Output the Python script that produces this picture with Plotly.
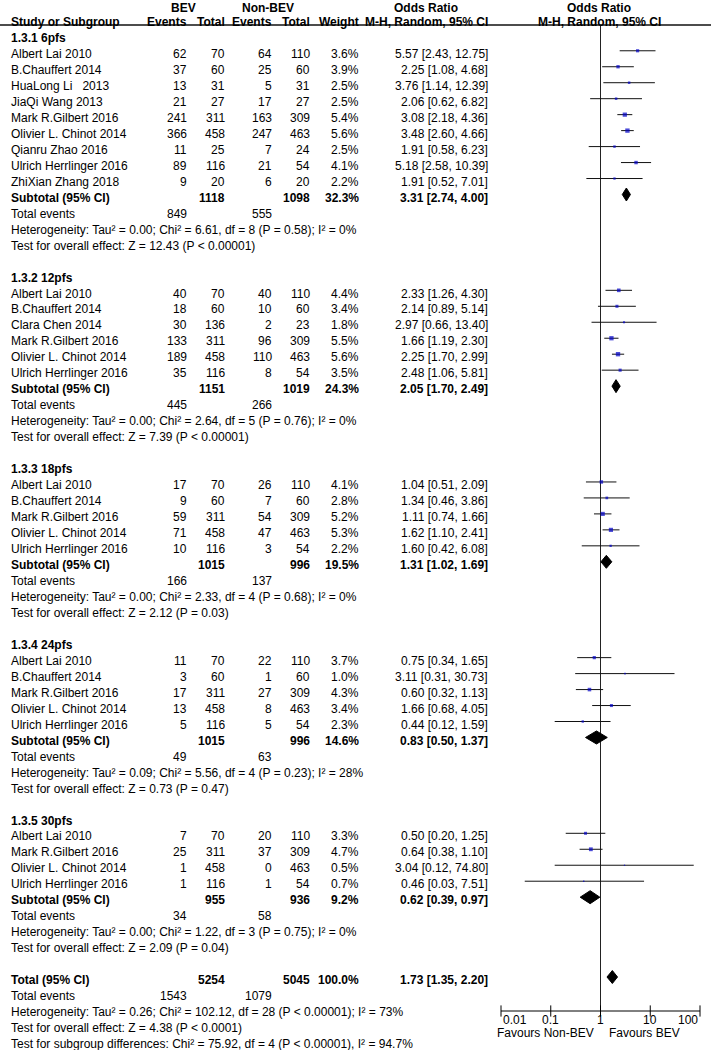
import math
import plotly.graph_objects as go

# ---------------- data ----------------
group_labels = ["1.3.1 6pfs", "1.3.2 12pfs", "1.3.3 18pfs", "1.3.4 24pfs", "1.3.5 30pfs"]

study_group = [0] * 9 + [1] * 6 + [2] * 5 + [3] * 5 + [4] * 4
study_names = [
    "Albert Lai 2010", "B.Chauffert 2014", "HuaLong Li\u00a0\u00a0 2013", "JiaQi Wang 2013",
    "Mark R.Gilbert 2016", "Olivier L. Chinot 2014", "Qianru Zhao 2016", "Ulrich Herrlinger 2016",
    "ZhiXian Zhang 2018",
    "Albert Lai 2010", "B.Chauffert 2014", "Clara Chen 2014", "Mark R.Gilbert 2016",
    "Olivier L. Chinot 2014", "Ulrich Herrlinger 2016",
    "Albert Lai 2010", "B.Chauffert 2014", "Mark R.Gilbert 2016", "Olivier L. Chinot 2014",
    "Ulrich Herrlinger 2016",
    "Albert Lai 2010", "B.Chauffert 2014", "Mark R.Gilbert 2016", "Olivier L. Chinot 2014",
    "Ulrich Herrlinger 2016",
    "Albert Lai 2010", "Mark R.Gilbert 2016", "Olivier L. Chinot 2014", "Ulrich Herrlinger 2016",
]
bev_events = [62, 37, 13, 21, 241, 366, 11, 89, 9, 40, 18, 30, 133, 189, 35,
              17, 9, 59, 71, 10, 11, 3, 17, 13, 5, 7, 25, 1, 1]
bev_total = [70, 60, 31, 27, 311, 458, 25, 116, 20, 70, 60, 136, 311, 458, 116,
             70, 60, 311, 458, 116, 70, 60, 311, 458, 116, 70, 311, 458, 116]
non_events = [64, 25, 5, 17, 163, 247, 7, 21, 6, 40, 10, 2, 96, 110, 8,
              26, 7, 54, 47, 3, 22, 1, 27, 8, 5, 20, 37, 0, 1]
non_total = [110, 60, 31, 27, 309, 463, 24, 54, 20, 110, 60, 23, 309, 463, 54,
             110, 60, 309, 463, 54, 110, 60, 309, 463, 54, 110, 309, 463, 54]
weight_pct = [3.6, 3.9, 2.5, 2.5, 5.4, 5.6, 2.5, 4.1, 2.2, 4.4, 3.4, 1.8, 5.5, 5.6, 3.5,
              4.1, 2.8, 5.2, 5.3, 2.2, 3.7, 1.0, 4.3, 3.4, 2.3, 3.3, 4.7, 0.5, 0.7]
or_est = [5.57, 2.25, 3.76, 2.06, 3.08, 3.48, 1.91, 5.18, 1.91, 2.33, 2.14, 2.97, 1.66, 2.25, 2.48,
          1.04, 1.34, 1.11, 1.62, 1.60, 0.75, 3.11, 0.60, 1.66, 0.44, 0.50, 0.64, 3.04, 0.46]
or_lo = [2.43, 1.08, 1.14, 0.62, 2.18, 2.60, 0.58, 2.58, 0.52, 1.26, 0.89, 0.66, 1.19, 1.70, 1.06,
         0.51, 0.46, 0.74, 1.10, 0.42, 0.34, 0.31, 0.32, 0.68, 0.12, 0.20, 0.38, 0.12, 0.03]
or_hi = [12.75, 4.68, 12.39, 6.82, 4.36, 4.66, 6.23, 10.39, 7.01, 4.30, 5.14, 13.40, 2.30, 2.99, 5.81,
         2.09, 3.86, 1.66, 2.41, 6.08, 1.65, 30.73, 1.13, 4.05, 1.59, 1.25, 1.10, 74.80, 7.51]

sub_bev_total = [1118, 1151, 1015, 1015, 955]
sub_non_total = [1098, 1019, 996, 996, 936]
sub_weight = [32.3, 24.3, 19.5, 14.6, 9.2]
sub_est = [3.31, 2.05, 1.31, 0.83, 0.62]
sub_lo = [2.74, 1.70, 1.02, 0.50, 0.39]
sub_hi = [4.00, 2.49, 1.69, 1.37, 0.97]
sub_bev_events = [849, 445, 166, 49, 34]
sub_non_events = [555, 266, 137, 63, 58]
sub_tau2 = ["0.00", "0.00", "0.00", "0.09", "0.00"]
sub_chi2 = ["6.61", "2.64", "2.33", "5.56", "1.22"]
sub_df = [8, 5, 4, 4, 3]
sub_p_het = ["P = 0.58", "P = 0.76", "P = 0.68", "P = 0.23", "P = 0.75"]
sub_i2 = ["0%", "0%", "0%", "28%", "0%"]
sub_z = ["12.43", "7.39", "2.12", "0.73", "2.09"]
sub_p_z = ["P &lt; 0.00001", "P &lt; 0.00001", "P = 0.03", "P = 0.47", "P = 0.04"]

tot_bev_total = 5254
tot_non_total = 5045
tot_weight = 100.0
tot_est, tot_lo, tot_hi = 1.73, 1.35, 2.20
tot_bev_events = 1543
tot_non_events = 1079
tot_het = "Heterogeneity: Tau\u00b2 = 0.26; Chi\u00b2 = 102.12, df = 28 (P &lt; 0.00001); I\u00b2 = 73%"
tot_test = "Test for overall effect: Z = 4.38 (P &lt; 0.0001)"
tot_sub_test = "Test for subgroup differences: Chi\u00b2 = 75.92, df = 4 (P &lt; 0.00001), I\u00b2 = 94.7%"

tick_vals = [0.01, 0.1, 1, 10, 100]
tick_text = ["0.01", "0.1", "1", "10", "100"]
label_left = "Favours Non-BEV"
label_right = "Favours BEV"

# ---------------- layout constants ----------------
W, H = 711, 1050
ROW0 = 34.8      # pixel centre of row 0 marks
DY = 15.97       # pixels per row
TXT_OFF = 0.2    # text slightly lower than marks
FONT = "Arial, 'Liberation Sans', sans-serif"
FS = 12
X_STUDY, X_EV1, X_TOT1, X_EV2, X_TOT2, X_W, X_OR = 9, 188.5, 227, 274, 312, 361, 490


def prow(p):
    return (p - ROW0) / DY


annotations = []


def txt(xp, row, s, anchor="left", bold=False, size=FS):
    annotations.append(dict(
        x=xp / W, xref="paper", y=row + TXT_OFF, yref="y",
        text=f"<b>{s}</b>" if bold else s, xanchor=anchor, yanchor="middle",
        showarrow=False, font=dict(family=FONT, size=size, color="#000")))


def top_header(xp, s):
    annotations.append(dict(
        x=xp / W, xref="paper", y=1, yref="paper", text=f"<b>{s}</b>",
        xanchor="center", yanchor="top", yshift=1, showarrow=False,
        font=dict(family=FONT, size=FS, color="#000")))


# headers
top_header(183, "BEV")
top_header(268, "Non-BEV")
top_header(426, "Odds Ratio")
top_header(599, "Odds Ratio")
txt(X_STUDY, -1, "Study or Subgroup", "left", True)
txt(X_EV1, -1, "Events", "right", True)
txt(X_TOT1, -1, "Total", "right", True)
txt(X_EV2, -1, "Events", "right", True)
txt(X_TOT2, -1, "Total", "right", True)
txt(X_W, -1, "Weight", "right", True)
txt(X_OR, -1, "M-H, Random, 95% CI", "right", True)
txt(599, -1, "M-H, Random, 95% CI", "center", True)

ci_x, ci_y = [], []
mk_x, mk_y, mk_s = [], [], []
dm_x, dm_y = [], []
HALF = 6.5 / DY

row = 0
for g, glab in enumerate(group_labels):
    txt(X_STUDY, row, glab, "left", True)
    row += 1
    for i, sg in enumerate(study_group):
        if sg != g:
            continue
        txt(X_STUDY, row, study_names[i])
        txt(X_EV1, row, str(bev_events[i]), "right")
        txt(X_TOT1, row, str(bev_total[i]), "right")
        txt(X_EV2, row, str(non_events[i]), "right")
        txt(X_TOT2, row, str(non_total[i]), "right")
        txt(X_W, row, f"{weight_pct[i]:.1f}%", "right")
        txt(X_OR, row, f"{or_est[i]:.2f} [{or_lo[i]:.2f}, {or_hi[i]:.2f}]", "right")
        ci_x += [or_lo[i], or_hi[i], None]
        ci_y += [row, row, None]
        mk_x.append(or_est[i])
        mk_y.append(row)
        mk_s.append(1.0 + 0.6 * weight_pct[i])
        row += 1
    # subtotal
    txt(X_STUDY, row, "Subtotal (95% CI)", "left", True)
    txt(X_TOT1, row, str(sub_bev_total[g]), "right", True)
    txt(X_TOT2, row, str(sub_non_total[g]), "right", True)
    txt(X_W, row, f"{sub_weight[g]:.1f}%", "right", True)
    txt(X_OR, row, f"{sub_est[g]:.2f} [{sub_lo[g]:.2f}, {sub_hi[g]:.2f}]", "right", True)
    dm_x += [sub_lo[g], sub_est[g], sub_hi[g], sub_est[g], sub_lo[g], None]
    dm_y += [row, row - HALF, row, row + HALF, row, None]
    row += 1
    txt(X_STUDY, row, "Total events")
    txt(X_EV1, row, str(sub_bev_events[g]), "right")
    txt(X_EV2, row, str(sub_non_events[g]), "right")
    row += 1
    txt(X_STUDY, row, f"Heterogeneity: Tau\u00b2 = {sub_tau2[g]}; Chi\u00b2 = {sub_chi2[g]}, "
                      f"df = {sub_df[g]} ({sub_p_het[g]}); I\u00b2 = {sub_i2[g]}")
    row += 1
    txt(X_STUDY, row, f"Test for overall effect: Z = {sub_z[g]} ({sub_p_z[g]})")
    row += 2

# overall
txt(X_STUDY, row, "Total (95% CI)", "left", True)
txt(X_TOT1, row, str(tot_bev_total), "right", True)
txt(X_TOT2, row, str(tot_non_total), "right", True)
txt(X_W, row, f"{tot_weight:.1f}%", "right", True)
txt(X_OR, row, f"{tot_est:.2f} [{tot_lo:.2f}, {tot_hi:.2f}]", "right", True)
dm_x += [tot_lo, tot_est, tot_hi, tot_est, tot_lo, None]
dm_y += [row, row - HALF, row, row + HALF, row, None]
row += 1
txt(X_STUDY, row, "Total events")
txt(X_EV1, row, str(tot_bev_events), "right")
txt(X_EV2, row, str(tot_non_events), "right")
row += 1
txt(X_STUDY, row, tot_het)
row += 1
txt(X_STUDY, row, tot_test)
row += 1
txt(X_STUDY, row, tot_sub_test)

# axis
AX_ROW = prow(1011)
TICKLAB_ROW = prow(1019.5)
FAV_ROW = prow(1032.5)
for k, (v, t) in enumerate(zip(tick_vals, tick_text)):
    anc = "left" if k == 0 else ("right" if k == len(tick_vals) - 1 else "center")
    annotations.append(dict(x=math.log10(v), xref="x", y=TICKLAB_ROW, yref="y", text=t,
                            xanchor=anc, yanchor="middle", showarrow=False,
                            font=dict(family=FONT, size=FS, color="#000")))
annotations.append(dict(x=0, xref="x", xshift=-5, y=FAV_ROW, yref="y", text=label_left,
                        xanchor="right", yanchor="middle", showarrow=False,
                        font=dict(family=FONT, size=FS, color="#000")))
annotations.append(dict(x=0, xref="x", xshift=6, y=FAV_ROW, yref="y", text=label_right,
                        xanchor="left", yanchor="middle", showarrow=False,
                        font=dict(family=FONT, size=FS, color="#000")))

fig = go.Figure()
# line of no effect
fig.add_trace(go.Scatter(x=[1, 1], y=[prow(26), AX_ROW], mode="lines",
                         line=dict(color="#222", width=1), hoverinfo="skip", showlegend=False))
# axis line + ticks
fig.add_trace(go.Scatter(x=[tick_vals[0], tick_vals[-1]], y=[AX_ROW, AX_ROW], mode="lines",
                         line=dict(color="#000", width=1), hoverinfo="skip", showlegend=False))
fig.add_trace(go.Scatter(x=tick_vals, y=[AX_ROW] * len(tick_vals), mode="markers",
                         marker=dict(symbol="line-ns", size=8, line=dict(color="#000", width=1)),
                         cliponaxis=False, hoverinfo="skip", showlegend=False))
# CIs
fig.add_trace(go.Scatter(x=ci_x, y=ci_y, mode="lines", line=dict(color="#111", width=1),
                         cliponaxis=False, hoverinfo="skip", showlegend=False))
# point estimates
fig.add_trace(go.Scatter(x=mk_x, y=mk_y, mode="markers",
                         marker=dict(symbol="square", size=mk_s, color="#0000C8", line=dict(width=0)),
                         hoverinfo="skip", showlegend=False))
# diamonds
fig.add_trace(go.Scatter(x=dm_x, y=dm_y, mode="lines", fill="toself", fillcolor="#000",
                         line=dict(color="#000", width=1), hoverinfo="skip", showlegend=False))

fig.update_layout(
    width=W, height=H, margin=dict(l=0, r=0, t=0, b=0),
    paper_bgcolor="white", plot_bgcolor="white",
    xaxis=dict(type="log", range=[-2, 2], domain=[501 / W, 700 / W], visible=False, fixedrange=True),
    yaxis=dict(range=[prow(H), prow(0)], domain=[0, 1], visible=False, fixedrange=True),
    annotations=annotations,
    shapes=[dict(type="line", xref="paper", yref="paper", x0=0, x1=1,
                 y0=1 - 25 / H, y1=1 - 25 / H, line=dict(color="#111", width=1.5))],
    showlegend=False,
)

fig.write_html("out.html", config={"displayModeBar": False},
               post_script="document.body.style.margin='0';document.body.style.overflow='hidden';")
